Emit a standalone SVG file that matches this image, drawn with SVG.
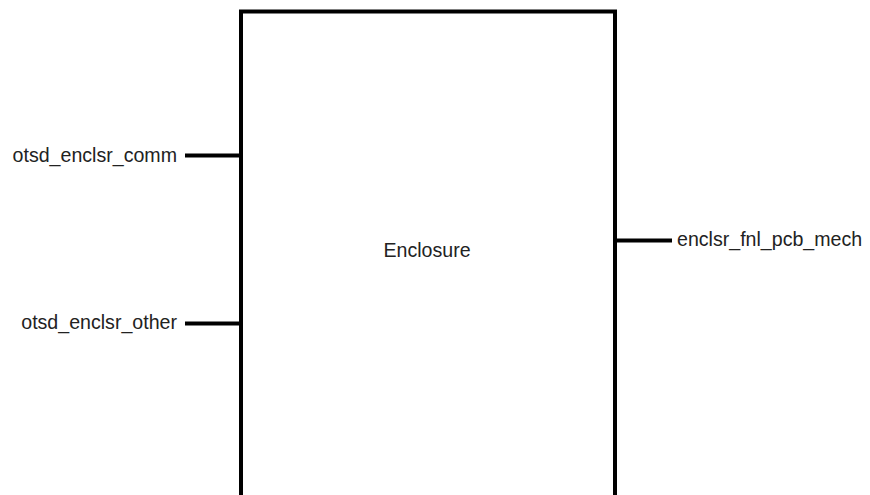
<svg xmlns="http://www.w3.org/2000/svg" width="870" height="495" viewBox="0 0 870 495">
<style>
.box{fill:#ffffff;stroke:#000000;stroke-width:4}
.wire{stroke:#000000;stroke-width:4;fill:none}
text{font-family:"Liberation Sans",Arial,sans-serif;font-size:19.6px;fill:#222222}
</style>
<rect width="870" height="495" fill="#ffffff"/>
<g id="node-enclosure">
<rect class="box" x="241" y="11.5" width="374" height="520"/>
<text x="427" y="256.5" text-anchor="middle">Enclosure</text>
</g>
<g id="connectors">
<line class="wire" x1="185" y1="155.5" x2="241" y2="155.5"/>
<line class="wire" x1="185" y1="323.5" x2="241" y2="323.5"/>
<line class="wire" x1="615" y1="240.5" x2="672" y2="240.5"/>
</g>
<g id="port-otsd_enclsr_comm">
<text x="177" y="162" text-anchor="end">otsd_enclsr_comm</text>
</g>
<g id="port-otsd_enclsr_other">
<text x="177" y="329" text-anchor="end">otsd_enclsr_other</text>
</g>
<g id="port-enclsr_fnl_pcb_mech">
<text x="677" y="245.5">enclsr_fnl_pcb_mech</text>
</g>
</svg>
